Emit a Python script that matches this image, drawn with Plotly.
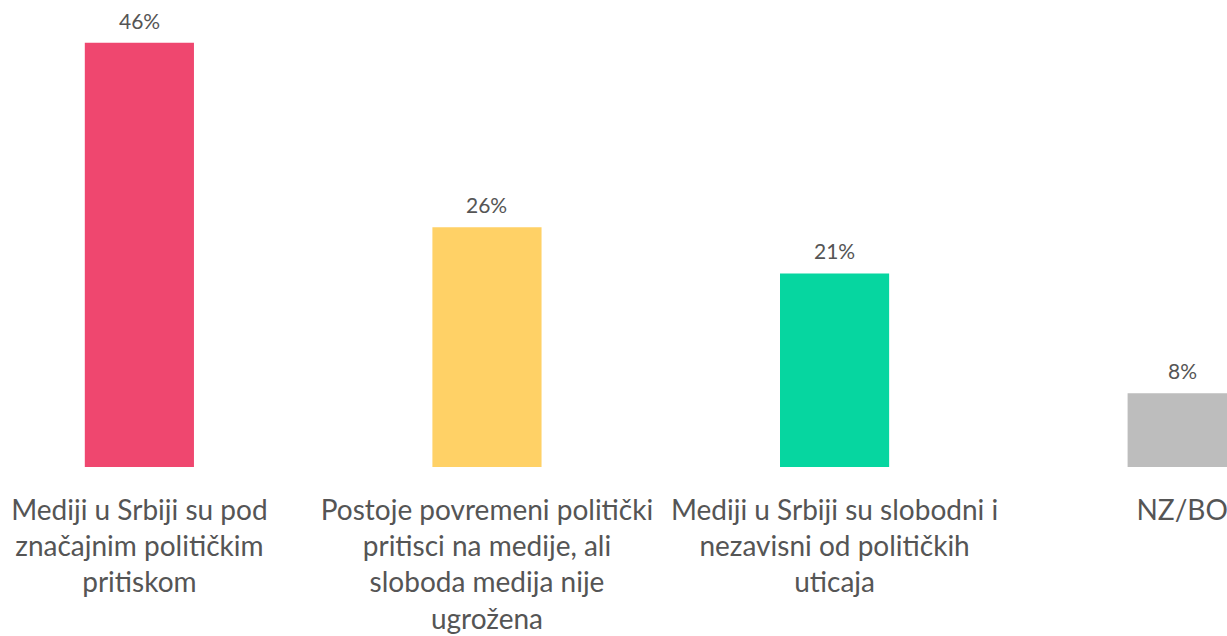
import plotly.graph_objects as go

categories = [
    'Mediji u Srbiji su pod<br>značajnim političkim<br>pritiskom',
    'Postoje povremeni politički<br>pritisci na medije, ali<br>sloboda medija nije<br>ugrožena',
    'Mediji u Srbiji su slobodni i<br>nezavisni od političkih<br>uticaja',
    'NZ/BO',
]
values = [46, 26, 21, 8]
colors = ['#EF476F', '#FFD166', '#06D6A0', '#BDBDBD']

FONT = 'Lato, Noto Sans, sans-serif'
TEXT_COLOR = '#555555'

idx = list(range(len(categories)))

fig = go.Figure()
fig.add_trace(go.Bar(
    x=idx,
    y=values,
    width=0.314,
    marker_color=colors,
    marker_line_width=0,
    hoverinfo='skip',
))

for i, v in zip(idx, values):
    fig.add_annotation(
        x=i, y=v, text=f'{v}%',
        showarrow=False, yanchor='bottom', yshift=8,
        font=dict(family=FONT, size=21, color=TEXT_COLOR),
    )

fig.update_layout(
    width=1227,
    height=636,
    margin=dict(l=0, r=0, t=0, b=169),
    plot_bgcolor='white',
    paper_bgcolor='white',
    showlegend=False,
    xaxis=dict(
        range=[-0.401, 3.129],
        tickvals=idx,
        ticktext=categories,
        tickfont=dict(family=FONT, size=28, color=TEXT_COLOR),
        ticks='outside', ticklen=18, tickcolor='white',
        ticklabeloverflow='allow',
        showgrid=False, zeroline=False, showline=False,
    ),
    yaxis=dict(
        range=[0, 50.65],
        visible=False,
    ),
)

# drop the default body margin so the figure fills the window exactly
fig.write_html(
    'out.html',
    config={'displayModeBar': False},
    post_script="document.body.style.margin='0';",
)
